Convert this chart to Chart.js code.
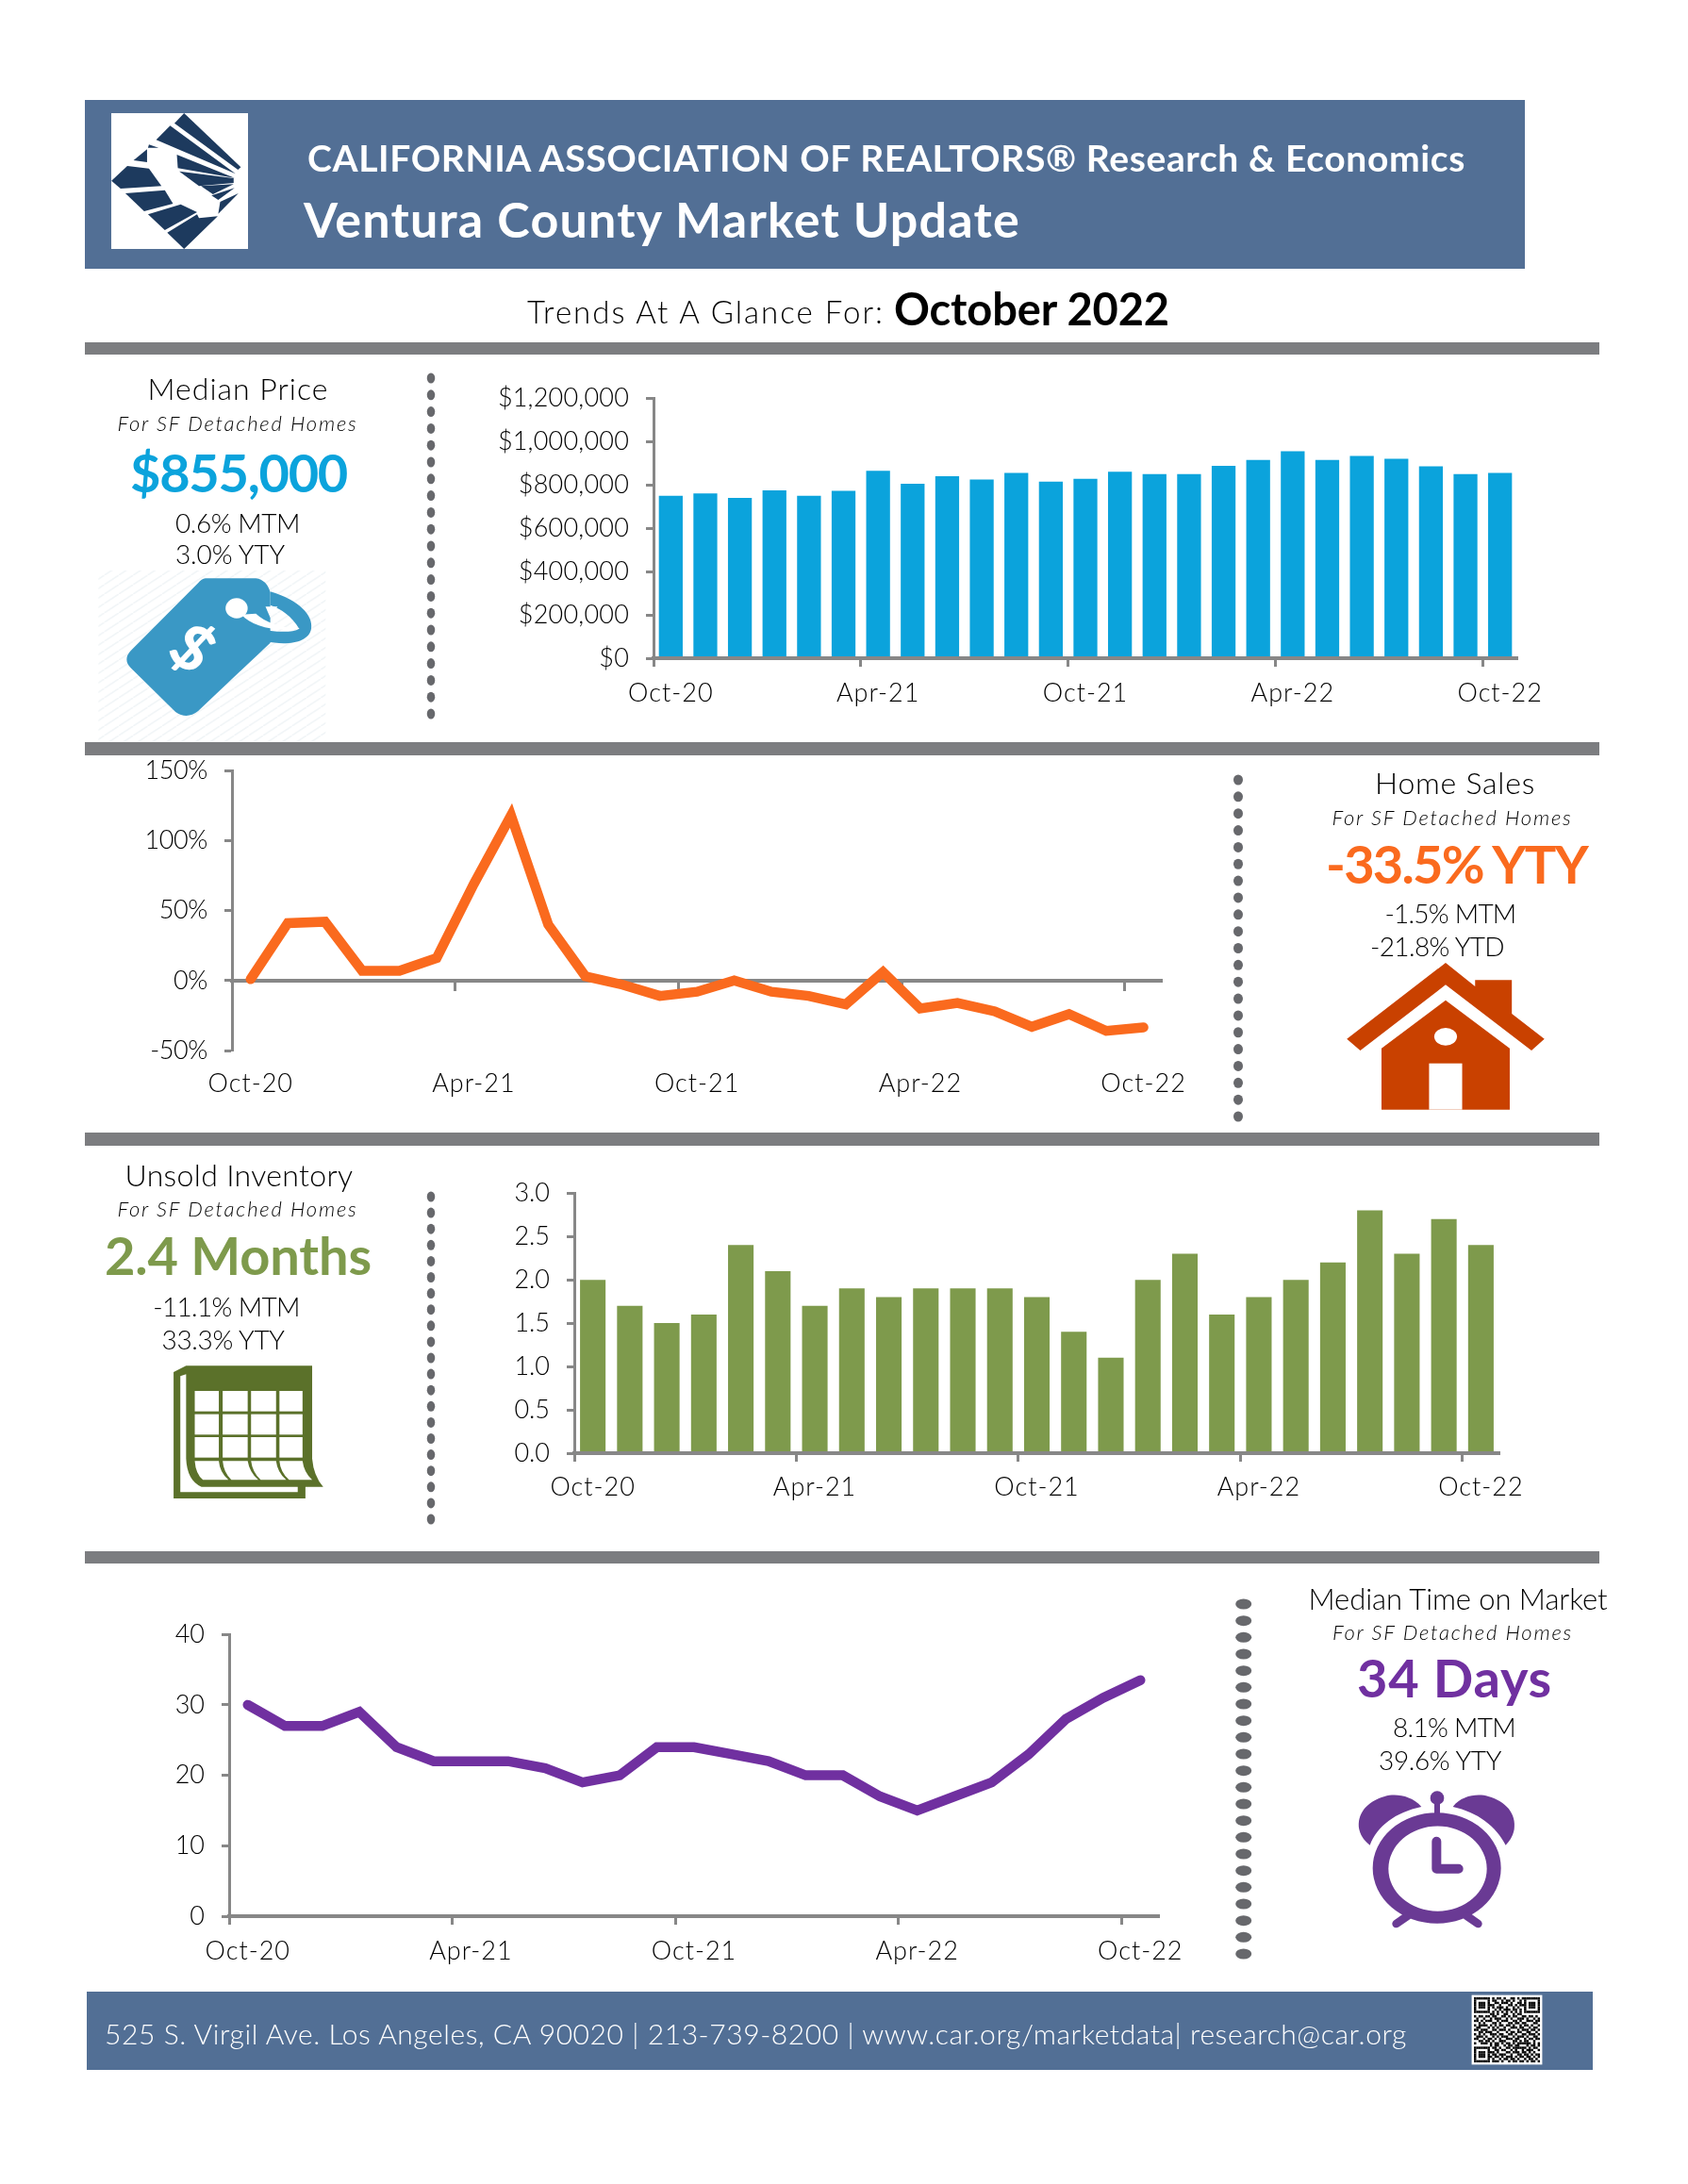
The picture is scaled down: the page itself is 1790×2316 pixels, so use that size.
<!DOCTYPE html>
<html><head><meta charset="utf-8">
<script src="https://cdn.jsdelivr.net/npm/chart.js@4"></script>
<style>
html,body{margin:0;padding:0;background:#fff;}
#page{position:relative;width:1790px;height:2316px;overflow:hidden;background:#fff;font-family:Lato,sans-serif;}
.t{position:absolute;white-space:pre;line-height:1;color:#000;}
.r{position:absolute;}
canvas{position:absolute;display:block;}
svg{position:absolute;overflow:visible;}
</style></head>
<body><div id="page"></div>
<script>
const months=['Oct-20','Nov-20','Dec-20','Jan-21','Feb-21','Mar-21','Apr-21','May-21','Jun-21','Jul-21','Aug-21','Sep-21','Oct-21','Nov-21','Dec-21','Jan-22','Feb-22','Mar-22','Apr-22','May-22','Jun-22','Jul-22','Aug-22','Sep-22','Oct-22'];
const medianPrice=[750000,760000,740000,775000,750000,772500,865000,805000,840000,825000,855000,815000,827500,860000,850000,850000,887500,915000,955000,915000,933000,920000,885000,850000,855000];
const salesYoY=[1,41,42,7,7,16,69,118,40,3,-3,-11,-8,0,-8,-11,-17,6,-20,-16,-22,-33,-24,-36,-33.5];
const inventoryMonths=[2.0,1.7,1.5,1.6,2.4,2.1,1.7,1.9,1.8,1.9,1.9,1.9,1.8,1.4,1.1,2.0,2.3,1.6,1.8,2.0,2.2,2.8,2.3,2.7,2.4];
const daysOnMarket=[30,27,27,29,24,22,22,22,21,19,20,24,24,23,22,20,20,17,15,17,19,23,28,31,33.5];

const BLUE='#0BA3DC',ORANGE='#FA6A1E',GREEN='#7E9A4C',PURPLE='#7030A0',GRAY='#878787',BAND='#526F95',RULE='#7C7D80';
const FONT='Lato';
const page=document.getElementById('page');

function rect(x,y,w,h,c){const d=document.createElement('div');d.className='r';d.style.cssText=`left:${x}px;top:${y}px;width:${w}px;height:${h}px;background:${c}`;page.appendChild(d);return d;}
function text(s,cx,cy,w,size,opt={}){
  const d=document.createElement('div');d.className='t';d.textContent=s;
  d.style.fontSize=size+'px';d.style.fontWeight=opt.weight||300;d.style.color=opt.color||'#000';
  if(opt.italic)d.style.fontStyle='italic';
  page.appendChild(d);
  if(w){const n=d.getBoundingClientRect().width;d.style.letterSpacing=((w-n)/s.length)+'px';}
  const bw=d.getBoundingClientRect().width;
  d.style.left=(cx-bw/2)+'px';d.style.top=(cy-0.527*size)+'px';
  if(opt.rotate)d.style.transform=`rotate(${opt.rotate}deg)`;
  return d;
}
function svg(x,y,w,h,vw,vh,inner){
  page.insertAdjacentHTML('beforeend',`<svg style="left:${x}px;top:${y}px" width="${w}" height="${h}" viewBox="0 0 ${vw} ${vh}" preserveAspectRatio="none">${inner}</svg>`);
}
function dots(x,y0,y1,n,w,h){
  let s='';for(let i=0;i<n;i++){s+=`<ellipse cx="${x}" cy="${y0+(y1-y0)*i/(n-1)}" rx="${w/2}" ry="${h/2}" fill="#67686C"/>`;}
  page.insertAdjacentHTML('beforeend',`<svg style="left:0;top:0;filter:blur(.6px)" width="1790" height="2316">${s}</svg>`);
}

/* ---- bands and rules ---- */
rect(90,106,1527,179,BAND);
rect(91.5,2112,1597.5,83,BAND);
rect(90,363,1606,13,RULE);
rect(90,787,1606,14,RULE);
rect(90,1201,1606,14,RULE);
rect(90,1645,1606,13,RULE);

/* ---- logo ---- */
rect(118,120,145,144,'#fff');
svg(60,90,800,300,1568,900,`<g fill="#1D3A5E">
<polygon points="265,90 383,262 377,270 245,122"/>
<polygon points="236,130 372,283 207,175"/>
<polygon points="250,222 370,296 252,265"/>
<polygon points="255,275 368,297 368,312 296,322"/>
<polygon points="300,322 368,316 325,348"/>
<polygon points="322,352 370,328 336,366"/>
<polygon points="340,372 378,345 336,410"/>
<polygon points="192,190 212,200 190,200"/>
<polygon points="188,205 160,240 188,246"/>
<polygon points="147,258 192,266 218,322 133,330 114,305"/>
<polygon points="143,345 225,335 242,378 182,402"/>
<polygon points="190,412 258,380 292,405 225,462"/>
<polygon points="230,470 292,412 296,424 335,418 265,522"/>
</g>`);

/* ---- charts ---- */
function spaced(scale,px){
  if(scale._spaced)return;scale._spaced=true;
  const draw=scale.drawLabels;
  scale.drawLabels=function(area){this.ctx.letterSpacing=px+'px';draw.call(this,area);this.ctx.letterSpacing='0px';};
}
function makeChart(spec){
  const L=190,T=24,R=60,B=70;
  const cv=document.createElement('canvas');
  let W=spec.right-spec.left+L+R,H=spec.bottom-spec.top+T+B;
  cv.width=W;cv.height=H;cv.style.left=(spec.left-L)+'px';cv.style.top=(spec.top-T)+'px';
  page.appendChild(cv);
  const fontOpt={family:FONT,size:27,weight:'300'};
  const isBar=spec.type==='bar';
  const ds=isBar?{data:spec.data,backgroundColor:spec.color,barPercentage:0.69,categoryPercentage:1}
    :{data:spec.data,borderColor:spec.color,borderWidth:10.5,pointRadius:0,tension:0,borderCapStyle:'round',borderJoinStyle:'miter',fill:false,clip:false};
  const chart=new Chart(cv,{
    type:spec.type,
    data:{labels:months,datasets:[ds]},
    options:{
      responsive:false,maintainAspectRatio:false,animation:false,devicePixelRatio:1,
      layout:{autoPadding:false,padding:{top:T,right:R,left:0,bottom:spec.crossZero?B:0}},
      plugins:{legend:{display:false},tooltip:{enabled:false}},
      scales:{
        x:{
          type:'category',offset:true,
          position:spec.crossZero?{y:0}:'bottom',
          afterFit(s){s.height=B;spaced(s,1.0);},
          grid:{offset:true,drawOnChartArea:false,drawTicks:true,tickLength:9,tickWidth:3,
            tickColor:c=>(c.index!==undefined&&c.index%6===0)?GRAY:'rgba(0,0,0,0)'},
          border:{display:true,color:GRAY,width:4,z:isBar?1:0},
          ticks:{autoSkip:false,maxRotation:0,minRotation:0,padding:spec.xPad,color:'#000',font:fontOpt,
            callback(v,i){return i%6===0?months[i]:'';}}
        },
        y:{
          min:spec.min,max:spec.max,
          afterFit(s){s.width=L;spaced(s,spec.yLs);},
          grid:{drawOnChartArea:false,drawTicks:true,tickLength:8,tickWidth:3,tickColor:GRAY},
          border:{display:true,color:GRAY,width:3},
          ticks:{stepSize:spec.step,padding:18,color:'#000',font:fontOpt,callback:spec.fmt}
        }
      }
    }
  });
  for(let i=0;i<3;i++){
    const x=chart.scales.x,y=chart.scales.y;
    const dH=Math.round((spec.bottom-spec.top)-(y.bottom-y.top)),dW=Math.round((spec.right-spec.left)-(x.right-x.left));
    if(!dH&&!dW)break;
    H+=dH;W+=dW;
    chart.resize(W,H);
  }
  cv.style.top=(spec.top-chart.scales.y.top)+'px';
  return chart;
}
makeChart({type:'bar',data:medianPrice,color:BLUE,left:693,right:1609,top:422,bottom:698,min:0,max:1200000,step:200000,xPad:12,yLs:0.2,
  fmt:v=>'$'+v.toLocaleString('en-US')});
makeChart({type:'line',data:salesYoY,color:ORANGE,left:246,right:1232,top:817,bottom:1114,min:-50,max:150,step:50,crossZero:true,xPad:84,yLs:-0.4,
  fmt:v=>v+'%'});
makeChart({type:'bar',data:inventoryMonths,color:GREEN,left:609,right:1590,top:1265,bottom:1541,min:0,max:3,step:0.5,xPad:11,yLs:0,
  fmt:v=>v.toFixed(1)});
makeChart({type:'line',data:daysOnMarket,color:PURPLE,left:243,right:1229,top:1733,bottom:2032,min:0,max:40,step:10,xPad:12,yLs:0,
  fmt:v=>String(v)});

/* ---- separators ---- */
dots(457,401,757,21,8.5,11);
dots(1313,827,1184,21,10,11);
dots(457,1269,1611,21,8.5,11);
dots(1318.7,1701,2072,22,17,11);

/* ---- icons ---- */
svg(80,380,800,420,1568,1260,`
<defs><pattern id="h" width="30" height="30" patternUnits="userSpaceOnUse"><path d="M0,30 L30,0" stroke="#F1F5F7" stroke-width="4"/></pattern></defs>
<rect x="48" y="675" width="472" height="545" fill="url(#h)"/>
<path d="M405,742 C465,768 495,820 490,860 C485,905 440,915 395,900 L380,860 C410,870 450,875 465,860 C450,820 425,795 405,785 Z" fill="#3A98C5"/>
<path d="M270,700 L375,700 Q398,705 405,745 L405,905 L255,1122 Q232,1150 208,1125 L115,985 Q98,958 115,930 L255,715 Q262,702 270,700 Z" fill="#3A98C5"/>
<ellipse cx="335" cy="795" rx="23" ry="32" fill="#fff"/>
<path d="M345,815 C365,850 410,870 465,860 L465,858 C430,860 395,840 375,812 Z" fill="#fff"/>
<path d="M395,790 L420,790 L405,825 Z" fill="#fff"/>
`);
svg(860,790,860,420,1568,1260,`<g fill="#C94100">
<polygon points="1227,693 1284,768 1284,748 1355,748 1355,855 1418,935 1393,972 1227,763 1062,972 1036,935"/>
<polygon points="1227,812 1351,965 1351,1160 1103,1160 1103,965"/>
</g>
<rect x="1195" y="1013" width="64" height="147" fill="#fff"/>
<ellipse cx="1227" cy="928" rx="22" ry="28" fill="#fff"/>`);
svg(80,1200,800,440,1568,1320,`
<path d="M204,765 L230,745 L492,745 L492,1040 Q495,1095 515,1130 L478,1130 L478,1167 L204,1167 Z" fill="#5B712A"/>
<path d="M218,778 L230,772 L230,1040 Q232,1110 262,1130 L462,1130 L462,1147 L218,1147 Z" fill="#fff"/>
<g fill="#fff">
<rect x="248" y="825" width="50" height="65"/><rect x="306" y="825" width="52" height="65"/><rect x="365" y="825" width="52" height="65"/><rect x="424" y="825" width="48" height="65"/>
<rect x="248" y="899" width="50" height="65"/><rect x="306" y="899" width="52" height="65"/><rect x="365" y="899" width="52" height="65"/><rect x="424" y="899" width="48" height="65"/>
<rect x="248" y="972" width="50" height="65"/><rect x="306" y="972" width="52" height="65"/><rect x="365" y="972" width="52" height="65"/><rect x="424" y="972" width="48" height="65"/>
<path d="M248,1048 L298,1048 Q300,1085 318,1108 L265,1108 Q250,1090 248,1048 Z"/>
<path d="M306,1048 L358,1048 Q362,1085 380,1108 L324,1108 Q308,1085 306,1048 Z"/>
<path d="M365,1048 L417,1048 Q420,1085 438,1108 L385,1108 Q368,1085 365,1048 Z"/>
<path d="M424,1048 L472,1048 Q475,1085 492,1108 L444,1108 Q426,1085 424,1048 Z"/>
</g>`);
svg(1300,1680,420,400,1260,1200,`<g fill="#6A3A94">
<path d="M622,708 C590,672 540,665 505,675 C450,690 415,730 424,780 C430,805 445,820 458,830 C480,770 540,725 622,708 Z"/>
<path d="M722,708 C750,672 800,665 835,675 C890,690 925,730 917,780 C912,805 900,820 890,830 C860,770 800,725 722,708 Z"/>
<circle cx="672" cy="680" r="22"/><rect x="663" y="690" width="18" height="50"/>
<path fill-rule="evenodd" d="M467,903 a204,176 0 1,0 408,0 a204,176 0 1,0 -408,0 Z M517,905 a156,135 0 1,0 313,0 a156,135 0 1,0 -313,0 Z"/>
</g>
<path d="M670,818 L670,905 L740,905" fill="none" stroke="#6A3A94" stroke-width="30" stroke-linecap="round" stroke-linejoin="round"/>
<path d="M542,1080 L578,1055 M802,1080 L766,1055" fill="none" stroke="#6A3A94" stroke-width="26" stroke-linecap="round"/>`);

/* ---- QR decoration ---- */
const qrRows=[
'11111110101101001101011111111',
'10000010110010110100101000001',
'10111010011011101001101011101',
'10111011100100011010111011101',
'10111010101110100101001011101',
'10000010010101110110101000001',
'11111110101010101010101111111',
'00000001101001100101100000000',
'10110110110011010110011011010',
'01001001011100101001110100101',
'11010111001011100110100111011',
'00101000110100011011011000110',
'10111101010110110100101101001',
'01100010101001001110110010110',
'11011100110111010001011101101',
'00110111001000101101100110010',
'10101001110110011010011011101',
'01110100101011100101110100110',
'11001011010100111011001011011',
'00110110100111000110101100100',
'10011101011010110101111110101',
'00000001011001011011000101101',
'11111110110100110111111010110',
'10000010011011001010010111001',
'10111011101000110111011010100',
'10111010110111001001101101011',
'10111011011010111010110110101',
'10000010100101101101001011010',
'11111110111010010110110101101'];
let qr='<rect x="-1" y="-1" width="31" height="31" fill="#fff"/>';
qrRows.forEach((r,y)=>{[...r].forEach((b,x)=>{if(b==='1')qr+=`<rect x="${x}" y="${y}" width="1.02" height="1.02" fill="#000"/>`;});});
svg(1563,2118,70,69,29,29,qr);

/* ---- text ---- */
text('CALIFORNIA ASSOCIATION OF REALTORS® Research & Economics',940,169,1228,39,{weight:700,color:'#fff'});
text('Ventura County Market Update',702,233,760,52,{weight:700,color:'#fff'});
text('Trends At A Glance For:',748.5,331,379,33);
text('October 2022',1094,329,292,47,{weight:700,color:'#000'});

text('Median Price',252.5,413,192,32);
text('For SF Detached Homes',252,450,255,22,{italic:true});
text('$855,000',253,503,230,56,{weight:700,color:BLUE});
text('0.6% MTM',252,555,132,28);
text('3.0% YTY',244,588,116,28);
text('$',205,688,0,66,{weight:900,color:'#fff',rotate:38});

text('Home Sales',1543,831,170,32);
text('For SF Detached Homes',1540,868,255,22,{italic:true});
text('-33.5% YTY',1544.6,918,277,56,{weight:700,color:ORANGE});
text('-1.5% MTM',1538,969,139,28);
text('-21.8% YTD',1524,1004,142,28);

text('Unsold Inventory',253.5,1247,242,32);
text('For SF Detached Homes',252,1283,255,22,{italic:true});
text('2.4 Months',252.5,1333,283,56,{weight:700,color:GREEN});
text('-11.1% MTM',240,1386,155.6,28);
text('33.3% YTY',236.6,1421,130,28);

text('Median Time on Market',1546,1696,317,31);
text('For SF Detached Homes',1540.5,1732,255,22,{italic:true});
text('34 Days',1542.5,1781,207,56,{weight:700,color:PURPLE});
text('8.1% MTM',1542,1832,130,28);
text('39.6% YTY',1527,1867,130,28);

text('525 S. Virgil Ave. Los Angeles, CA 90020 | 213-739-8200 | www.car.org/marketdata| research@car.org',801.5,2157,1381,30,{color:'#fff'});
</script>
</body></html>
